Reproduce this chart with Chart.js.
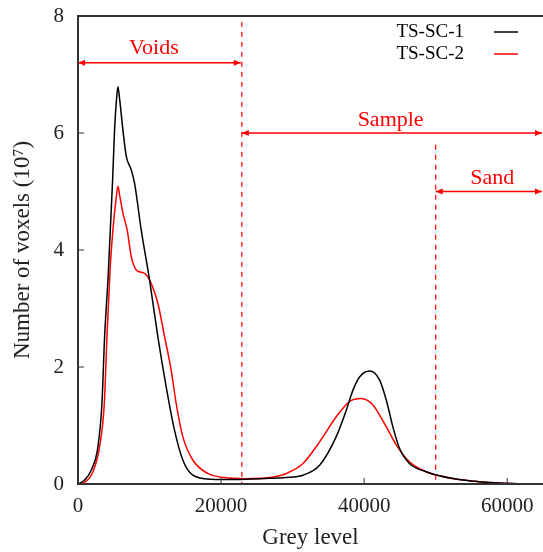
<!DOCTYPE html>
<html>
<head>
<meta charset="utf-8">
<script src="https://cdn.jsdelivr.net/npm/chart.js"></script>
<style>
  html, body { margin: 0; padding: 0; background: #fff; overflow: hidden; }
  #wrap { width: 543px; height: 552px; }
</style>
</head>
<body>
<div id="wrap"><canvas id="grafico"></canvas></div>
<script>
// grey level histograms (counts in 10^7 voxels)
var greyTS1 = [0, 930, 1860, 2790, 3350, 3720, 4230, 4840, 5110, 5400, 5580, 5800, 6280, 6750, 7440, 7910, 8840, 10000, 11160, 12330, 13490, 14650, 16050, 18600, 22000, 26800, 29000, 31450, 33770, 36100, 37500, 38420, 39360, 40750, 42150, 43080, 44010, 44940, 46330, 48660, 50520, 53000, 56000, 59000, 62000, 65000];
var voxelsTS1 = [0, 0.07, 0.24, 0.64, 1.38, 2.52, 3.58, 5.2, 6.05, 6.6, 6.79, 6.6, 6.05, 5.6, 5.37, 5.14, 4.34, 3.49, 2.52, 1.66, 0.92, 0.41, 0.15, 0.08, 0.075, 0.097, 0.11, 0.15, 0.32, 0.81, 1.26, 1.6, 1.83, 1.93, 1.78, 1.44, 0.98, 0.61, 0.35, 0.21, 0.14, 0.08, 0.04, 0.015, 0.005, 0];

var greyTS2 = [0, 930, 2090, 3020, 3680, 4050, 4490, 4880, 5300, 5580, 5800, 6280, 6880, 7440, 8140, 9310, 10000, 11160, 12100, 13020, 13720, 14650, 16050, 18140, 20470, 23500, 26800, 29120, 31450, 33770, 36100, 37960, 39590, 41220, 43080, 44480, 46330, 48660, 50520, 53000, 56000, 59000, 62000, 65000];
var voxelsTS2 = [0, 0.03, 0.21, 0.64, 1.38, 2.52, 3.68, 4.34, 4.85, 5.09, 4.95, 4.63, 4.34, 3.89, 3.66, 3.6, 3.49, 3.09, 2.52, 1.95, 1.38, 0.81, 0.41, 0.18, 0.11, 0.09, 0.11, 0.18, 0.35, 0.72, 1.15, 1.41, 1.46, 1.35, 0.98, 0.67, 0.38, 0.21, 0.14, 0.08, 0.04, 0.015, 0.005, 0];

var nomes = ['TS-SC-1', 'TS-SC-2'];
var cores = ['#000000', '#ff0000'];

// regions marked on the plot
var regioes = ['Voids', 'Sample', 'Sand'];
var regiaoInicio = [0, 22900, 50000];
var regiaoFim = [22900, 65000, 65000];
var regiaoNivel = [7.2, 6.0, 5.0];
var rotuloX = [10600, 43700, 57900];
var rotuloY = [7.45, 6.22, 5.22];
var limites = [22900, 50000];
var limiteTopo = [7.9, 5.8];

var xTicks = [0, 20000, 40000, 60000];
var yTicks = [0, 2, 4, 6, 8];

var fonte = "'Liberation Serif', 'DejaVu Serif', serif";

function pontos(xs, ys) {
    var p = [];
    for (var i = 0; i < xs.length; i++) {
        p.push({ x: xs[i], y: ys[i] });
    }
    return p;
}

function seta(ctx, x1, x2, y) {
    ctx.beginPath();
    ctx.moveTo(x1, y);
    ctx.lineTo(x2, y);
    ctx.stroke();
    ctx.beginPath();
    ctx.moveTo(x1, y);
    ctx.lineTo(x1 + 7, y - 3);
    ctx.lineTo(x1 + 7, y + 3);
    ctx.closePath();
    ctx.fill();
    ctx.beginPath();
    ctx.moveTo(x2, y);
    ctx.lineTo(x2 - 7, y - 3);
    ctx.lineTo(x2 - 7, y + 3);
    ctx.closePath();
    ctx.fill();
}

var extras = {
    id: 'extras',
    afterDatasetsDraw: function (chart) {
        var ctx = chart.ctx;
        var xs = chart.scales.x;
        var ys = chart.scales.y;
        var area = chart.chartArea;
        ctx.save();

        // dashed boundaries
        ctx.strokeStyle = '#ff0000';
        ctx.lineWidth = 1.2;
        ctx.setLineDash([5, 5]);
        for (var i = 0; i < limites.length; i++) {
            var px = xs.getPixelForValue(limites[i]);
            ctx.beginPath();
            ctx.moveTo(px, ys.getPixelForValue(limiteTopo[i]));
            ctx.lineTo(px, area.bottom);
            ctx.stroke();
        }
        ctx.setLineDash([]);

        // region arrows and labels
        ctx.fillStyle = '#ff0000';
        ctx.lineWidth = 1.5;
        ctx.font = '22px ' + fonte;
        ctx.textAlign = 'center';
        ctx.textBaseline = 'middle';
        for (var j = 0; j < regioes.length; j++) {
            seta(ctx, xs.getPixelForValue(regiaoInicio[j]), xs.getPixelForValue(regiaoFim[j]) - 1, ys.getPixelForValue(regiaoNivel[j]));
            ctx.fillText(regioes[j], xs.getPixelForValue(rotuloX[j]), ys.getPixelForValue(rotuloY[j]));
        }

        // frame
        ctx.strokeStyle = '#333';
        ctx.lineWidth = 2;
        ctx.strokeRect(area.left, area.top, area.right - area.left + 4, area.bottom - area.top);

        // inner ticks
        ctx.lineWidth = 1;
        ctx.beginPath();
        for (var k = 0; k < yTicks.length; k++) {
            var py = ys.getPixelForValue(yTicks[k]);
            ctx.moveTo(area.left, py);
            ctx.lineTo(area.left + 6, py);
        }
        for (var m = 0; m < xTicks.length; m++) {
            var tx = xs.getPixelForValue(xTicks[m]);
            ctx.moveTo(tx, area.bottom);
            ctx.lineTo(tx, area.bottom - 6);
        }
        ctx.stroke();

        // legend
        ctx.font = '19px ' + fonte;
        ctx.textAlign = 'right';
        ctx.fillStyle = '#000';
        for (var n = 0; n < nomes.length; n++) {
            var ly = 32 + n * 22;
            ctx.fillText(nomes[n], 464, ly);
            ctx.strokeStyle = cores[n];
            ctx.lineWidth = 1.5;
            ctx.beginPath();
            ctx.moveTo(494, ly);
            ctx.lineTo(518, ly);
            ctx.stroke();
        }
        ctx.restore();
    }
};

var ctx = document.getElementById('grafico').getContext('2d');
var grafico = new Chart(ctx, {
    type: 'line',
    data: {
        datasets: [{
            label: nomes[0],
            data: pontos(greyTS1, voxelsTS1),
            borderColor: cores[0],
            borderWidth: 1.5,
            pointRadius: 0,
            cubicInterpolationMode: 'monotone'
        }, {
            label: nomes[1],
            data: pontos(greyTS2, voxelsTS2),
            borderColor: cores[1],
            borderWidth: 1.5,
            pointRadius: 0,
            cubicInterpolationMode: 'monotone'
        }]
    },
    options: {
        responsive: true,
        maintainAspectRatio: false,
        animation: false,
        layout: { padding: { top: 16, right: 0, left: 0, bottom: 0 } },
        plugins: { legend: { display: false }, tooltip: { enabled: false } },
        scales: {
            x: {
                type: 'linear',
                min: 0,
                max: 65000,
                afterFit: function (s) { s.height = 68; s.paddingRight = 0; s.paddingLeft = 0; },
                afterBuildTicks: function (s) { s.ticks = xTicks.map(function (v) { return { value: v }; }); },
                grid: { display: false, drawTicks: false },
                border: { display: false },
                ticks: {
                    padding: 10,
                    maxRotation: 0,
                    color: '#222',
                    font: { family: fonte, size: 21 },
                    callback: function (v) { return String(v); }
                },
                title: {
                    display: true,
                    text: 'Grey level',
                    color: '#222',
                    font: { family: fonte, size: 23 },
                    padding: { top: 6, bottom: 0 }
                }
            },
            y: {
                min: 0,
                max: 8,
                afterFit: function (s) { s.width = 78; s.paddingTop = 0; s.paddingBottom = 0; },
                afterBuildTicks: function (s) { s.ticks = yTicks.map(function (v) { return { value: v }; }); },
                grid: { display: false, drawTicks: false },
                border: { display: false },
                ticks: {
                    padding: 14,
                    color: '#222',
                    font: { family: fonte, size: 21 }
                },
                title: {
                    display: true,
                    text: 'Number of voxels (10\u2077)',
                    color: '#222',
                    font: { family: fonte, size: 23 },
                    padding: { top: 9, bottom: 8 }
                }
            }
        }
    },
    plugins: [extras]
});
</script>
</body>
</html>
